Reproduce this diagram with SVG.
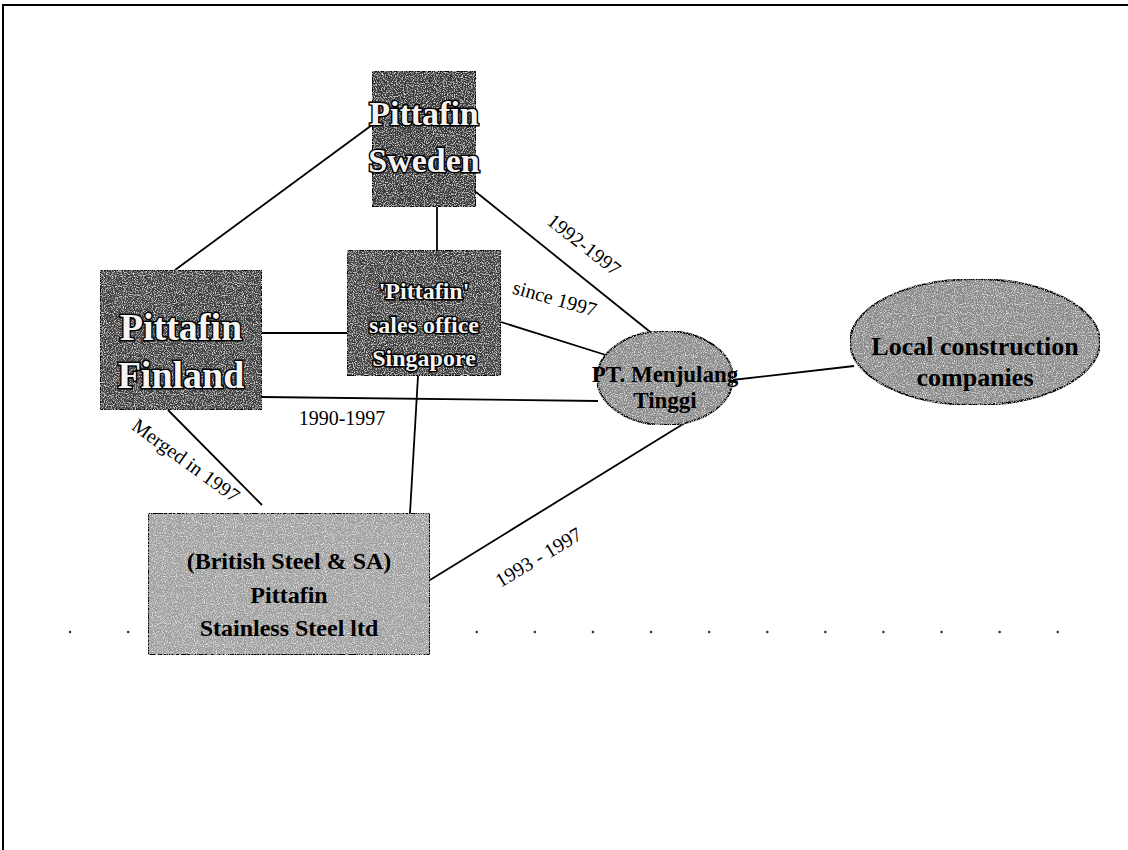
<svg xmlns="http://www.w3.org/2000/svg" width="1128" height="850" viewBox="0 0 1128 850">
<style>
.node{stroke:#000;stroke-width:2}
.dark{fill:#404040}
.light{fill:#a0a0a0}
.mid{fill:#8a8a8a}
.wt{font-family:"Liberation Serif",serif;fill:#f4f4f4;stroke:#000;stroke-width:3;paint-order:stroke;text-anchor:middle;font-weight:bold}
.bt{font-family:"Liberation Serif",serif;fill:#000;text-anchor:middle;font-weight:bold}
.conn line{stroke:#000;stroke-width:1.8}
.lbl{font-family:"Liberation Serif",serif;font-size:20px;fill:#000;text-anchor:middle}
</style>
<defs>
<filter id="grain" x="0" y="0" width="100%" height="100%">
<feTurbulence type="fractalNoise" baseFrequency="0.9" numOctaves="2" seed="3" result="n"/>
<feColorMatrix in="n" type="matrix" values="0 0 0 0 1  0 0 0 0 1  0 0 0 0 1  0 0 0 2.2 -1.05" result="w"/>
<feComposite in="w" in2="SourceGraphic" operator="in" result="wc"/>
<feMerge><feMergeNode in="SourceGraphic"/><feMergeNode in="wc"/></feMerge>
</filter>
</defs>
<rect width="1128" height="850" fill="#fff"/>
<path d="M3,850 V5 H1128" fill="none" stroke="#000" stroke-width="2"/>
<line x1="70" y1="632" x2="1090" y2="632" stroke="#333" stroke-width="2.5" stroke-dasharray="0.1 58" stroke-linecap="round"/>
<g id="connectors" class="conn">
<line x1="372" y1="125" x2="175" y2="270"/>
<line x1="437" y1="207" x2="437" y2="250"/>
<line x1="476" y1="192" x2="654" y2="335"/>
<line x1="262" y1="333" x2="347" y2="333"/>
<line x1="501" y1="322" x2="609" y2="356"/>
<line x1="262" y1="397" x2="598" y2="401"/>
<line x1="168" y1="410" x2="262" y2="505"/>
<line x1="418" y1="376" x2="410" y2="513"/>
<line x1="430" y1="580" x2="688" y2="421"/>
<line x1="732" y1="380" x2="854" y2="366"/>
</g>
<g id="labels">
<text class="lbl" transform="translate(580,250) rotate(38)" font-size="21">1992-1997</text>
<text class="lbl" transform="translate(553,305) rotate(16)">since 1997</text>
<text class="lbl" x="342" y="425">1990-1997</text>
<text class="lbl" transform="translate(182,466) rotate(36)" font-size="21">Merged in 1997</text>
<text class="lbl" transform="translate(542,563) rotate(-31)" font-size="21">1993 - 1997</text>
</g>
<g id="sweden">
<rect class="node dark" x="372" y="71" width="104" height="136" filter="url(#grain)" style="fill:#383838"/>
<text class="wt" x="424" y="125" font-size="34">Pittafin</text>
<text class="wt" x="424" y="172" font-size="34">Sweden</text>
</g>
<g id="finland">
<rect class="node dark" x="100" y="270" width="162" height="140" filter="url(#grain)"/>
<text class="wt" x="181" y="340" font-size="38">Pittafin</text>
<text class="wt" x="181" y="388" font-size="38">Finland</text>
</g>
<g id="singapore">
<rect class="node dark" x="347" y="250" width="154" height="126" filter="url(#grain)"/>
<text class="wt" x="424" y="299" font-size="24">'Pittafin'</text>
<text class="wt" x="424" y="333" font-size="24">sales office</text>
<text class="wt" x="424" y="366" font-size="24">Singapore</text>
</g>
<g id="british">
<rect class="node light" x="148" y="513" width="282" height="142" filter="url(#grain)"/>
<text class="bt" x="289" y="569" font-size="24">(British Steel &amp; SA)</text>
<text class="bt" x="289" y="603" font-size="24">Pittafin</text>
<text class="bt" x="289" y="636" font-size="24">Stainless Steel ltd</text>
</g>
<g id="menjulang">
<ellipse class="node mid" cx="665" cy="378" rx="68" ry="47" filter="url(#grain)"/>
<text class="bt" x="665" y="382" font-size="23">PT. Menjulang</text>
<text class="bt" x="665" y="408" font-size="23">Tinggi</text>
</g>
<g id="local">
<ellipse class="node mid" cx="975" cy="342" rx="125" ry="63" filter="url(#grain)"/>
<text class="bt" x="975" y="355" font-size="26">Local construction</text>
<text class="bt" x="975" y="386" font-size="26">companies</text>
</g>
</svg>
